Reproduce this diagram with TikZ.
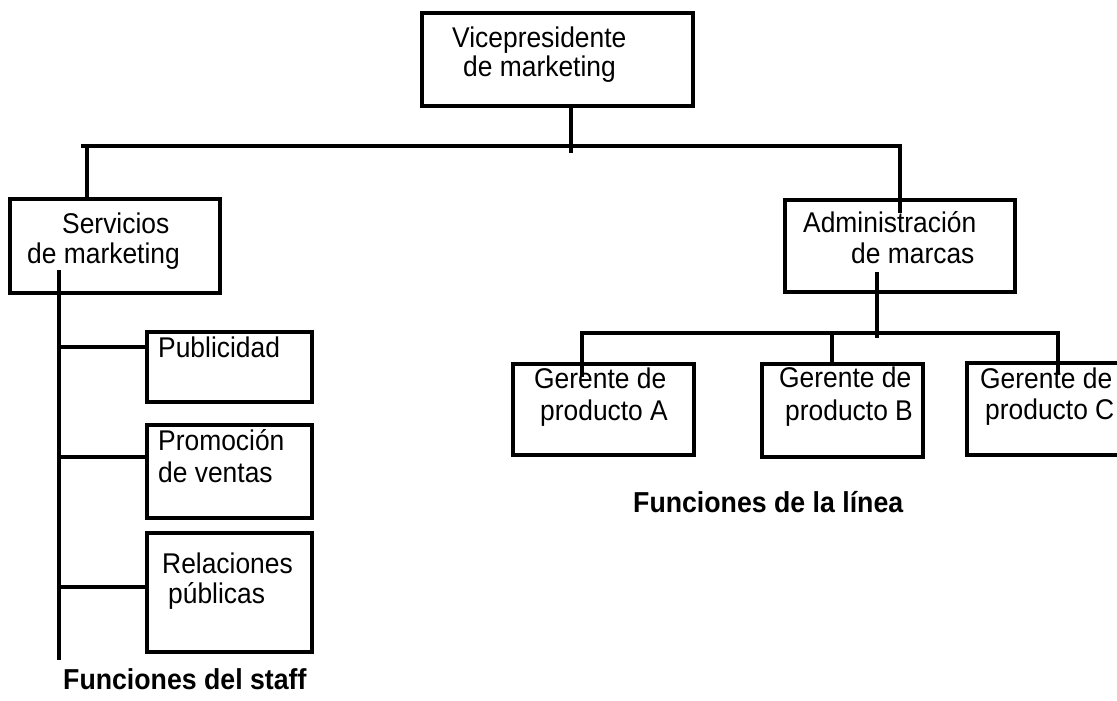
\documentclass[tikz,border=0pt]{standalone}
\usepackage{graphicx}
\usepackage{fontspec}
\setmainfont{Liberation Sans}
% slightly tall lettering
\newcommand{\tallword}[1]{\scalebox{1}[1.08]{#1}}
\begin{document}
\begin{tikzpicture}[x=1pt,y=-1pt,
  box/.style={draw, line width=4.2pt, rectangle, inner sep=0pt},
  link/.style={line width=3.4pt},
  lbl/.style={anchor=base west, inner sep=0pt, font=\fontsize{26.4}{30}\selectfont},
  caption/.style={anchor=base west, inner sep=0pt, font=\fontsize{26.7}{30}\selectfont\bfseries}]
\useasboundingbox (0,0) rectangle (1117,701);
\clip (0,0) rectangle (1117,701);

% boxes
\node[box, minimum width=271pt, minimum height=93pt] (vp)   at (557.5,59.5) {};
\node[box, minimum width=210pt, minimum height=94pt] (serv) at (115,246) {};
\node[box, minimum width=165pt, minimum height=70pt] (pub)  at (229.5,367) {};
\node[box, minimum width=165pt, minimum height=93pt] (prom) at (229.5,471.5) {};
\node[box, minimum width=165pt, minimum height=119pt] (rel) at (229.5,592.5) {};
\node[box, minimum width=230pt, minimum height=92pt] (adm)  at (900,246) {};
\node[box, minimum width=181pt, minimum height=91pt] (ga)   at (603.5,409.5) {};
\node[box, minimum width=161pt, minimum height=93pt] (gb)   at (842.5,410.5) {};
\node[box, minimum width=163pt, minimum height=92pt] (gc)   at (1048.5,409) {};

% labels
\node[lbl] (vp1) at (452,48) {\tallword{Vicepresidente}};
\node[lbl] (vp2) at (463,77) {\tallword{de marketing}};
\node[lbl] (sv1) at (62,233) {\tallword{Servicios}};
\node[lbl] (sv2) at (27,263) {\tallword{de marketing}};
\node[lbl] (pb1) at (158,357) {\tallword{Publicidad}};
\node[lbl] (pr1) at (158,450) {\tallword{Promoción}};
\node[lbl] (pr2) at (158,482) {\tallword{de ventas}};
\node[lbl] (rl1) at (162,573) {\tallword{Relaciones}};
\node[lbl] (rl2) at (168,603) {\tallword{públicas}};
\node[lbl] (ad1) at (803,232) {\tallword{Administración}};
\node[lbl] (ad2) at (851,263) {\tallword{de marcas}};
\node[lbl] (ga1) at (534,388) {\tallword{Gerente de}};
\node[lbl] (ga2) at (540,420) {\tallword{producto A}};
\node[lbl] (gb1) at (779,387) {\tallword{Gerente de}};
\node[lbl] (gb2) at (785,420) {\tallword{producto B}};
\node[lbl] (gc1) at (980,388) {\tallword{Gerente de}};
\node[lbl] (gc2) at (985,419) {\tallword{producto C}};
\node[caption] (staff) at (63,689) {\tallword{Funciones del staff}};
\node[caption] (linea) at (633,512) {\tallword{Funciones de la línea}};

% top level connectors
\coordinate (vpdrop) at (571,153);
\coordinate (barL) at (81,146);
\coordinate (admin) at (900,213);
\draw[link] (vp.south -| vpdrop) -- (vpdrop);
\draw[link] (barL) -| (admin);
\draw[link] (87,146) -- (serv.north -| 87,0);

% staff trunk and branches
\coordinate (stTop) at (59,270);
\coordinate (stBot) at (59,660);
\draw[link] (stTop) -- (stBot);
\draw[link] (59,347) -- (pub.west |- 0,347);
\draw[link] (59,457) -- (prom.west |- 0,457);
\draw[link] (59,587) -- (rel.west |- 0,587);

% line functions
\coordinate (adTop) at (877,272);
\coordinate (adBot) at (877,338);
\draw[link] (adTop) -- (adBot);
\coordinate (gbar) at (582,333);
\coordinate (gaEnd) at (582,377);
\coordinate (gcEnd) at (1058,375);
\draw[link] (gaEnd) |- (gbar) -| (gcEnd);
\draw[link] (832,333) -- (gb.north -| 832,0);
\end{tikzpicture}
\end{document}
